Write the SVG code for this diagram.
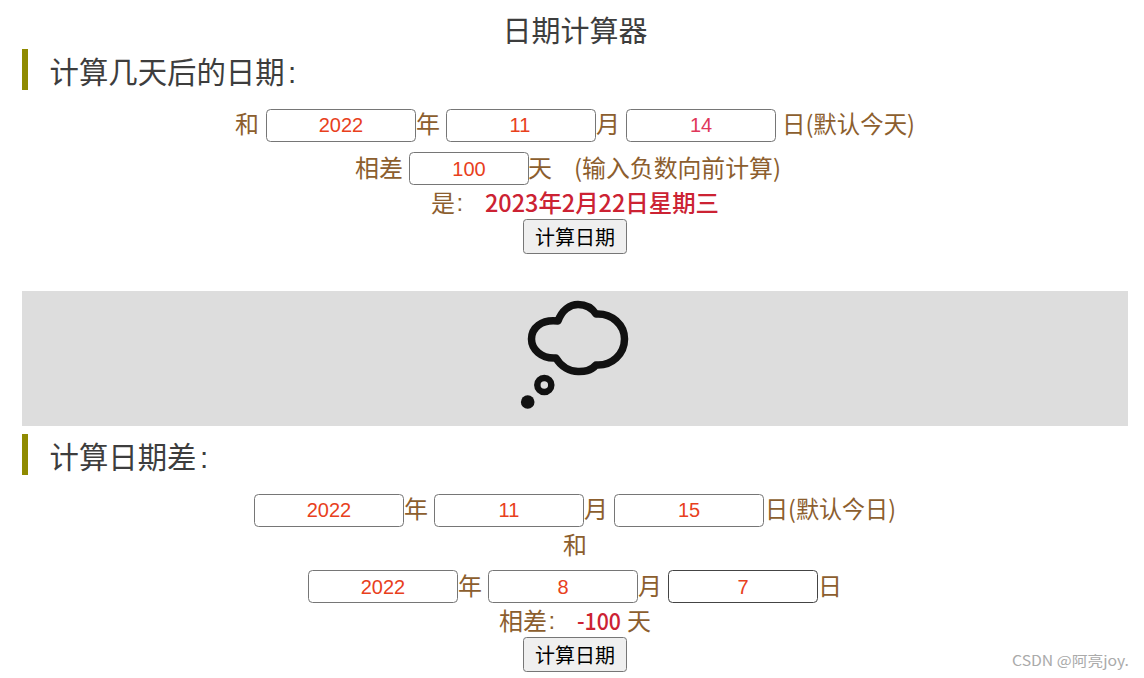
<svg xmlns="http://www.w3.org/2000/svg" width="1144" height="678" viewBox="0 0 1144 678">
<style>
text{font-family:"Noto Sans CJK SC","Liberation Sans",sans-serif}
.t{font-size:29px;fill:#3d3d3d}
.h{font-size:29.4px;fill:#3d3d3d}
.b{font-size:24px;fill:#8c5e2e}
.c{font-family:"Liberation Sans",sans-serif}
.v{font-family:"Liberation Sans",sans-serif;font-size:20px;fill:#e8401c;text-anchor:middle}
.r{font-size:23.5px;fill:#cc2233;font-weight:500}
.box{fill:#fff;stroke:#767676;stroke-width:1}
.btn{fill:#efefef;stroke:#767676;stroke-width:1}
.bt{font-size:20px;fill:#000;text-anchor:middle}
.bar{fill:#8f8a00}
</style>
<rect width="1144" height="678" fill="#fff"/>
<text id="title" class="t" x="575" y="42" text-anchor="middle">日期计算器</text>
<g id="section1">
<rect class="bar" x="22" y="49" width="6" height="41"/>
<text class="h" x="49.500" y="83">计算几天后的日期</text>
<text class="h c" x="288" y="83">:</text>
</g>
<g id="row1">
<text class="b" x="235" y="133">和</text>
<rect class="box" x="266.500" y="109.500" width="149" height="32" rx="4"/><text class="v" x="341" y="132">2022</text>
<text class="b" x="416" y="133">年</text>
<rect class="box" x="446.500" y="109.500" width="149" height="32" rx="4"/><text class="v" x="520" y="132">11</text>
<text class="b" x="596" y="133">月</text>
<rect class="box" x="626.500" y="109.500" width="149" height="32" rx="4"/><text class="v" x="701" y="132" style="fill:#e0375a">14</text>
<text class="b" x="782" y="133" textLength="133" lengthAdjust="spacingAndGlyphs">日(默认今天)</text>
</g>
<g id="row2">
<text class="b" x="355" y="177">相差</text>
<rect class="box" x="409.500" y="152.500" width="119" height="32" rx="4"/><text class="v" x="469" y="176">100</text>
<text class="b" x="528" y="177">天</text>
<text class="b" x="574" y="177" textLength="207" lengthAdjust="spacingAndGlyphs">(输入负数向前计算)</text>
</g>
<g id="row3">
<text class="b" x="431" y="212">是</text>
<text class="b c" x="456.500" y="211">:</text>
<text class="r" x="485" y="212" textLength="234" lengthAdjust="spacingAndGlyphs">2023年2月22日星期三</text>
</g>
<g id="button1">
<rect class="btn" x="523.500" y="219.500" width="103" height="34" rx="3"/>
<text class="bt" x="575" y="245">计算日期</text>
</g>
<g id="banner">
<rect x="22" y="291" width="1106" height="135" fill="#dddddd"/>
<path d="M558 321 C562 310 570 304.500 578 304.500 C586 304.500 592 308 596 314 C612 313 624.500 325 624.500 339 C624.500 354 612 366 596 365 C590 372 583 371.500 578 371.500 C570 371.500 561 367 556 358 C541 359 531.500 349 531.500 339 C531.500 328 541 319 558 321 Z" fill="none" stroke="#111" stroke-width="7.500" stroke-linejoin="round"/>
<circle cx="544.300" cy="385" r="7" fill="none" stroke="#111" stroke-width="6.500"/>
<circle cx="527.700" cy="402" r="6.800" fill="#111"/>
</g>
<g id="section2">
<rect class="bar" x="22" y="434" width="6" height="41"/>
<text class="h" x="49.500" y="468">计算日期差</text>
<text class="h c" x="200" y="468">:</text>
</g>
<g id="row4">
<rect class="box" x="254.500" y="494.500" width="149" height="32" rx="4"/><text class="v" x="329" y="517">2022</text>
<text class="b" x="404" y="518">年</text>
<rect class="box" x="434.500" y="494.500" width="149" height="32" rx="4"/><text class="v" x="509" y="517">11</text>
<text class="b" x="584" y="518">月</text>
<rect class="box" x="614.500" y="494.500" width="149" height="32" rx="4"/><text class="v" x="689" y="517">15</text>
<text class="b" x="765" y="518" textLength="131" lengthAdjust="spacingAndGlyphs">日(默认今日)</text>
</g>
<text id="he" class="b" x="563" y="554">和</text>
<g id="row5">
<rect class="box" x="308.500" y="570.500" width="149" height="32" rx="4"/><text class="v" x="383" y="594">2022</text>
<text class="b" x="458" y="595">年</text>
<rect class="box" x="488.500" y="570.500" width="149" height="32" rx="4"/><text class="v" x="563" y="594">8</text>
<text class="b" x="638" y="595">月</text>
<rect class="box" x="668.500" y="570.500" width="149" height="32" rx="4" style="stroke:#444"/><text class="v" x="743" y="594">7</text>
<text class="b" x="818" y="595">日</text>
</g>
<g id="row6">
<text class="b" x="499" y="630">相差</text>
<text class="b c" x="548.500" y="629">:</text>
<text class="r" x="577" y="630" textLength="44" lengthAdjust="spacingAndGlyphs">-100</text>
<text class="b" x="627" y="630">天</text>
</g>
<g id="button2">
<rect class="btn" x="523.500" y="637.500" width="103" height="34" rx="3"/>
<text class="bt" x="575" y="663">计算日期</text>
</g>
<text id="watermark" x="1012" y="666" textLength="117" lengthAdjust="spacingAndGlyphs" style="font-size:14px;fill:#aaaaaa">CSDN @阿亮joy.</text>
</svg>
